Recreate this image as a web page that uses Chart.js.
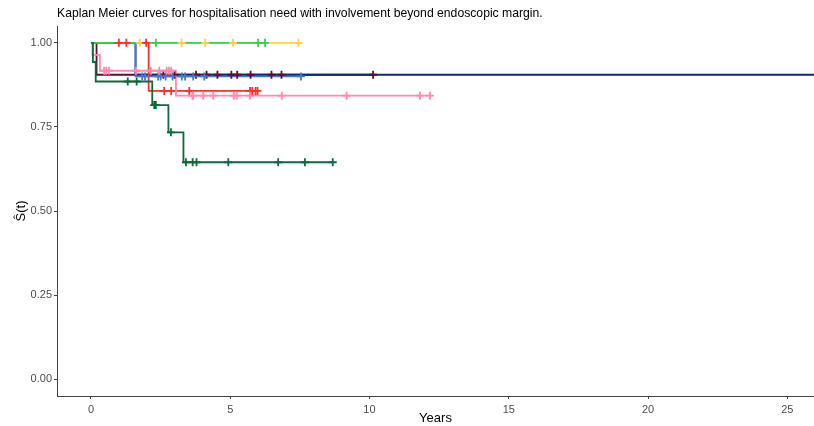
<!DOCTYPE html>
<html lang="en">
<head>
    <meta charset="UTF-8">
    <title>Kaplan Meier curves</title>
    <script src="https://cdn.jsdelivr.net/npm/chart.js"></script>
    <style>
        body { margin: 0; background: #ffffff; }
        #wrap { width: 814px; height: 426px; }
    </style>
</head>
<body>
    <div id="wrap"><canvas id="chart" width="814" height="426"></canvas></div>

    <script>
        // step curves: times where survival changes, and survival from that time on
        const greenTimes = [0, 6.25];
        const greenSurv = [1, 1];
        const greenCens = [2.33, 6.0, 6.25];

        const yellowTimes = [0, 7.5];
        const yellowSurv = [1, 1];
        const yellowCens = [1.75, 3.25, 4.1, 5.1, 7.45];

        const redTimes = [0, 2.07, 5.98];
        const redSurv = [1, 0.857, 0.857];
        const redCens = [1.0, 1.27, 1.98, 2.63, 2.88, 3.53, 5.71, 5.79, 5.91, 5.98];

        const pinkTimes = [0, 0.05, 0.32, 3.05, 12.2];
        const pinkSurv = [1, 0.964, 0.917, 0.843, 0.843];
        const pinkCens = [0.47, 0.55, 0.65, 1.62, 2.15, 2.45, 2.72, 2.8, 2.88, 3.64, 3.67, 4.03, 4.39, 5.13, 5.23, 5.71, 6.85, 9.18, 11.81, 12.17];

        const blueTimes = [0, 1.6, 7.54];
        const blueSurv = [1, 0.9, 0.9];
        const blueCens = [1.84, 1.94, 2.41, 2.5, 2.68, 2.93, 3.26, 3.38, 3.67, 4.07, 7.54];

        const maroonTimes = [0, 0.2, 10.13];
        const maroonSurv = [1, 0.905, 0.905];
        const maroonCens = [2.6, 3.0, 3.77, 4.15, 4.54, 5.04, 5.25, 5.73, 6.48, 6.84, 10.13];

        const navyTimes = [0, 1.6, 25.96];
        const navySurv = [1, 0.905, 0.905];

        const dkgreenTimes = [0, 0.07, 0.17, 2.2, 2.78, 3.32, 8.68];
        const dkgreenSurv = [1, 0.943, 0.885, 0.815, 0.734, 0.645, 0.645];
        const dkgreenCens = [1.32, 1.64, 2.27, 2.33, 2.87, 3.41, 3.65, 3.79, 4.93, 6.72, 7.68, 8.68];

        const xTicks = [0, 5, 10, 15, 20, 25];
        const yTicks = [0, 0.25, 0.5, 0.75, 1];

        // top of the list is drawn on top
        const groups = [
            { times: dkgreenTimes, surv: dkgreenSurv, cens: dkgreenCens, color: '#0B6B3A' },
            { times: greenTimes, surv: greenSurv, cens: greenCens, color: '#3CCF4E' },
            { times: pinkTimes, surv: pinkSurv, cens: pinkCens, color: '#FF8AAE' },
            { times: redTimes, surv: redSurv, cens: redCens, color: '#FF2D2D' },
            { times: blueTimes, surv: blueSurv, cens: blueCens, color: '#4A78C8' },
            { times: navyTimes, surv: navySurv, cens: [], color: '#0A2A78' },
            { times: maroonTimes, surv: maroonSurv, cens: maroonCens, color: '#5E0F30' },
            { times: yellowTimes, surv: yellowSurv, cens: yellowCens, color: '#FFD046' }
        ];

        function survAt(times, surv, t) {
            let s = surv[0];
            for (let i = 0; i < times.length; i++) {
                if (times[i] <= t) s = surv[i];
            }
            return s;
        }

        const censorSets = groups.map(g => ({
            type: 'scatter',
            data: g.cens.map(t => ({ x: t, y: survAt(g.times, g.surv, t) })),
            showLine: false,
            pointStyle: 'cross',
            pointRadius: 4,
            pointBorderWidth: 1.8,
            borderColor: g.color,
            backgroundColor: g.color
        }));

        const lineSets = groups.map(g => ({
            type: 'line',
            data: g.times.map((t, i) => ({ x: t, y: g.surv[i] })),
            stepped: 'before',
            borderColor: g.color,
            borderWidth: 1.8,
            pointRadius: 0,
            fill: false
        }));

        const titlePlugin = {
            id: 'plotTitle',
            afterDraw(chart) {
                const c = chart.ctx;
                c.save();
                c.fillStyle = '#000';
                c.font = '12.2px "Liberation Sans", Arial, sans-serif';
                c.textBaseline = 'middle';
                c.fillText('Kaplan Meier curves for hospitalisation need with involvement beyond endoscopic margin.', 57, 14);
                c.restore();
            }
        };

        const tickFont = { family: '"Liberation Sans", Arial, sans-serif', size: 11 };

        new Chart(document.getElementById('chart').getContext('2d'), {
            data: { datasets: censorSets.concat(lineSets) },
            options: {
                responsive: false,
                animation: false,
                layout: { autoPadding: false, padding: { top: 26, right: 0, left: 0, bottom: 0 } },
                plugins: { legend: { display: false }, tooltip: { enabled: false } },
                scales: {
                    x: {
                        type: 'linear',
                        min: -1.22,
                        max: 25.96,
                        afterBuildTicks: s => { s.ticks = xTicks.map(v => ({ value: v })); },
                        afterFit: s => { s.height = 30; },
                        grid: { display: true, drawOnChartArea: false, tickLength: 3, color: '#444' },
                        border: { display: true, color: '#444', width: 1 },
                        ticks: { color: '#4D4D4D', font: tickFont, padding: 4, maxRotation: 0 },
                        title: { display: true, text: 'Years', color: '#000', font: { family: '"Liberation Sans", Arial, sans-serif', size: 13 }, padding: { top: 0, bottom: 0 } }
                    },
                    y: {
                        type: 'linear',
                        min: -0.05,
                        max: 1.05,
                        afterBuildTicks: s => { s.ticks = yTicks.map(v => ({ value: v })); },
                        afterFit: s => { s.width = 57; },
                        grid: { display: true, drawOnChartArea: false, tickLength: 3, color: '#444' },
                        border: { display: true, color: '#444', width: 1 },
                        ticks: { color: '#4D4D4D', font: tickFont, padding: 2, callback: v => v.toFixed(2) },
                        title: { display: true, text: 'Ŝ(t)', color: '#000', font: { family: '"Liberation Sans", Arial, sans-serif', size: 13 }, padding: { top: 14, bottom: 0 } }
                    }
                }
            },
            plugins: [titlePlugin]
        });
    </script>
</body>
</html>
